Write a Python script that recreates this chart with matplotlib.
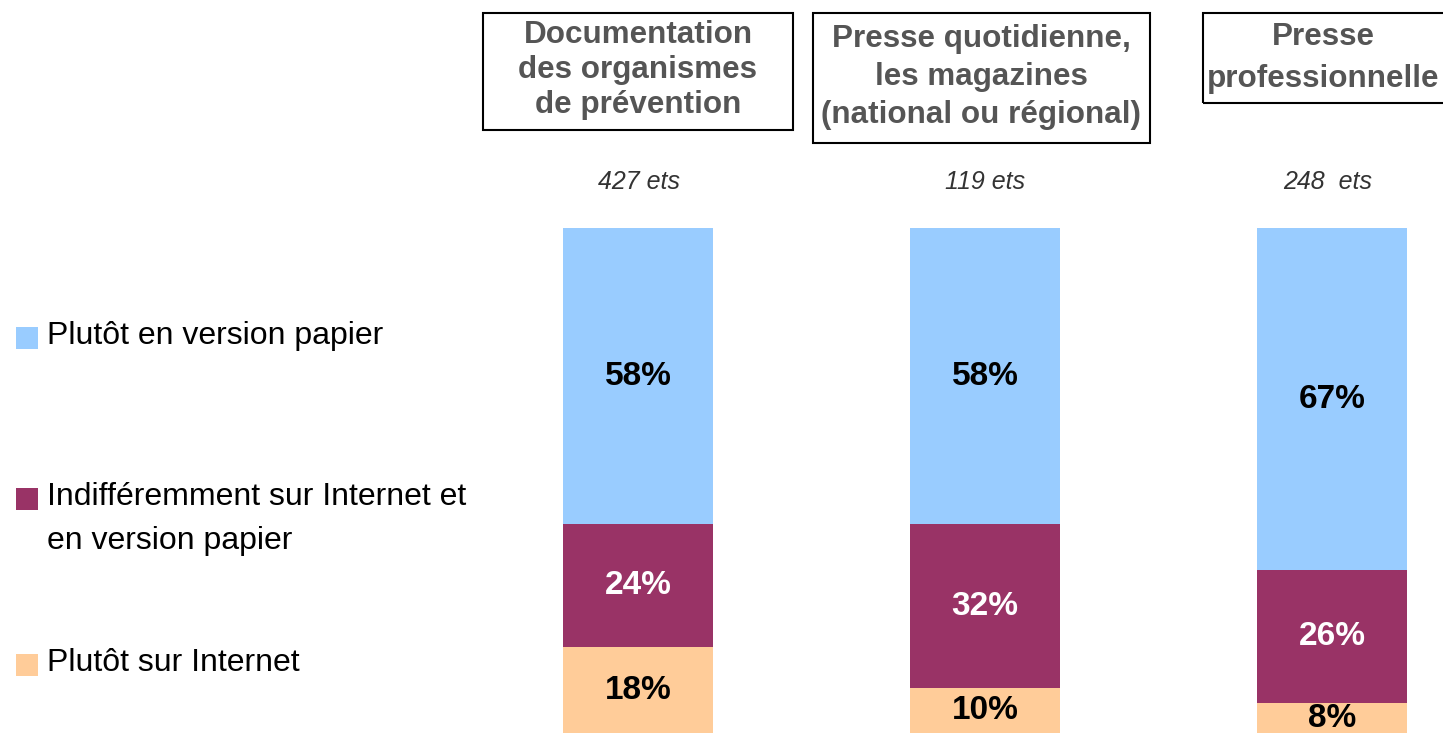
import matplotlib
matplotlib.use("Agg")
import matplotlib.pyplot as plt
from matplotlib.patches import Rectangle
import numpy as np

plt.rcParams['font.family'] = ['Liberation Sans', 'DejaVu Sans']

# ---- data ----
categories = ["Documentation\ndes organismes\nde prévention",
              "Presse quotidienne,\nles magazines\n(national ou régional)",
              "Presse\nprofessionnelle"]
counts = ["427 ets", "119 ets", "248  ets"]
series_names = ["Plutôt en version papier",
                "Indifféremment sur Internet et\nen version papier",
                "Plutôt sur Internet"]
papier = [58, 58, 67]
indiff = [24, 32, 26]
internet = [18, 10, 8]

colors = ["#99CCFF", "#993366", "#FFCC99"]
label_colors = ["black", "white", "black"]

W, H = 1443, 733
fig = plt.figure(figsize=(W / 100, H / 100), dpi=100)


def fx(px):
    return px / W


def fy(py):
    return 1 - py / H


# axes: data x=0 at 638px, spacing 347px; y 0 at 228px, 5.11 px per %
left_px = 638 - 0.5 * 347
ax = fig.add_axes([fx(left_px), 0, 3 * 347 / W, (H - 228) / H])
ax.set_xlim(-0.5, 2.5)
ymax = (H - 228) / 5.11
ax.set_ylim(ymax, 0)
ax.axis("off")

x = np.arange(len(categories))
bw = 150 / 347
bottoms = np.zeros(len(x))
for vals, col, lc in zip([papier, indiff, internet], colors, label_colors):
    vals = np.array(vals, dtype=float)
    ax.bar(x, vals, bottom=bottoms, width=bw, color=col, edgecolor="none")
    for xi, b, v in zip(x, bottoms, vals):
        end = min(b + v, ymax)  # centre label in the visible part of the segment
        ax.text(xi, (b + end) / 2, f"{int(v)}%", ha="center", va="center",
                fontsize=24, fontweight="bold", color=lc)
    bottoms = bottoms + vals

# headers (boxes)
boxes = [(483, 13, 793, 130), (813, 13, 1150, 143), (1203, 13, 1460, 103)]
text_cx = [638, 981, 1323]
text_cy = [70, 77, 58]
spacings = [1.2, 1.36, 1.48]
for cat, (x0, y0, x1, y1), cx, cy, ls in zip(categories, boxes, text_cx, text_cy, spacings):
    fig.patches.append(Rectangle((fx(x0), fy(y1)), fx(x1) - fx(x0), fy(y0) - fy(y1),
                                 transform=fig.transFigure, fill=False,
                                 edgecolor="black", linewidth=1.5))
    fig.text(fx(cx), fy(cy), cat, ha="center", va="center", fontsize=22.6,
             fontweight="bold", color="#555555", linespacing=ls, multialignment="center")

# counts
for cx, c in zip([639, 985, 1328], counts):
    fig.text(fx(cx), fy(182), c, ha="center", va="center", fontsize=18,
             style="italic", color="#333333")

# legend
leg_y = [336, 519, 663]
for name, col, ly in zip(series_names, colors, leg_y):
    nlines = name.count("\n") + 1
    first_line = ly - (nlines - 1) * 22.5
    sq_cy = first_line + 2
    fig.patches.append(Rectangle((fx(16), fy(sq_cy + 11)), fx(22), 22 / H,
                                 transform=fig.transFigure, facecolor=col,
                                 edgecolor="none"))
    fig.text(fx(47), fy(ly), name, ha="left", va="center", fontsize=23,
             color="black", linespacing=1.58)

fig.savefig("out.png", dpi=100)
